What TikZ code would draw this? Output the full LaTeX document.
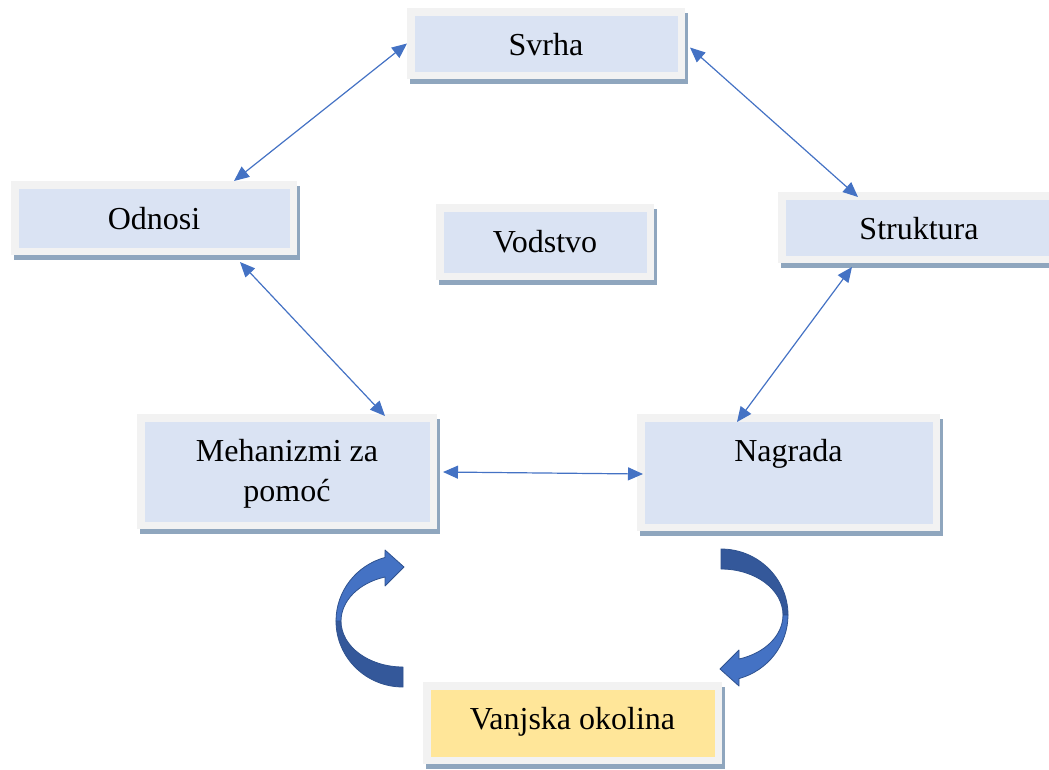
\documentclass[tikz,border=0pt]{standalone}
\usepackage{fontspec}
\setmainfont{Liberation Serif}
\usetikzlibrary{arrows.meta,calc}
\definecolor{boxfill}{HTML}{DAE3F3}
\definecolor{framecol}{HTML}{F2F2F2}
\definecolor{shadecol}{HTML}{8FA6BE}
\definecolor{envfill}{HTML}{FFE699}
\definecolor{linkcol}{HTML}{4472C4}
\definecolor{arrowlight}{HTML}{4472C4}
\definecolor{arrowdark}{HTML}{34589A}
\definecolor{arrowedge}{HTML}{2F528F}
\tikzset{
  box/.style={rectangle, draw=framecol, fill=boxfill, line width=7.5pt, inner sep=0pt,
    preaction={draw=shadecol, fill=shadecol, line width=7.5pt, transform canvas={xshift=3pt,yshift=-5pt}},
    font=\fontsize{32}{40}\selectfont, text height=26pt},
  link/.style={draw=linkcol, line width=1.2pt, {Triangle[length=15pt,width=13pt]}-{Triangle[length=15pt,width=13pt]}},
  bandlight/.style={fill=arrowlight, draw=arrowedge, line width=0.8pt, line join=round},
  banddark/.style={fill=arrowdark, draw=arrowedge, line width=0.8pt, line join=round},
}
\begin{document}
\begin{tikzpicture}[x=1pt,y=-1pt]
\useasboundingbox (0,0) rectangle (1049,769);
\clip (0,0) rectangle (1049,769);

\node[box, minimum width=270.5pt, minimum height=63.5pt, text depth=3pt] (svrha) at (546,43.5) {Svrha};
\node[box, minimum width=278.5pt, minimum height=66.5pt, text depth=4pt] (odnosi) at (154,218) {Odnosi};
\node[box, minimum width=210.5pt, minimum height=68.5pt, text depth=6pt] (vodstvo) at (545,242) {Vodstvo};
\node[box, minimum width=274.5pt, minimum height=63.5pt, text depth=3pt] (struktura) at (919,227.5) {Struktura};
\node[box, minimum width=292.5pt, minimum height=107.5pt, text height=66pt, text depth=7pt, align=center] (mehanizmi) at (287,471.5) {Mehanizmi za\\pomoć};
\node[box, minimum width=295.5pt, minimum height=109.5pt, text depth=49pt] (nagrada) at (788.5,472.5) {Nagrada};
\node[box, fill=envfill, minimum width=291.5pt, minimum height=74.5pt, text depth=14pt] (okolina) at (572.5,723) {Vanjska okolina};

\draw[link] (svrha.west) -- ($(odnosi.north)+(80,0)$);
\draw[link] ($(svrha.east)+(5,4)$) -- ($(struktura.north)+(-61,5)$);
\draw[link] ($(odnosi.south)+(86,7)$) -- ($(mehanizmi.north)+(98,2)$);
\draw[link] ($(struktura.south)+(-67,4)$) -- ($(nagrada.north)+(-51.5,8)$);
\draw[link] ($(mehanizmi.east)+(6,0.5)$) -- ($(nagrada.west)+(6,1.5)$);

% curved block arrows (left one; right one is the same turned by 180 degrees)
\foreach \ang in {0,180} {
  \begin{scope}[rotate around={\ang:(562,618)}]
    \path[banddark] (403,687) arc[start angle=90, end angle=180, x radius=67, y radius=66]
      -- (341,621) arc[start angle=180, end angle=90, x radius=62, y radius=46] -- cycle;
    \path[bandlight] (336,621) arc[start angle=180, end angle=254.4, x radius=67, y radius=66]
      -- (385,550) -- (404,567) -- (385,586) -- (385,577)
      arc[start angle=253.1, end angle=180, x radius=62, y radius=46] -- cycle;
  \end{scope}
}
\end{tikzpicture}
\end{document}
